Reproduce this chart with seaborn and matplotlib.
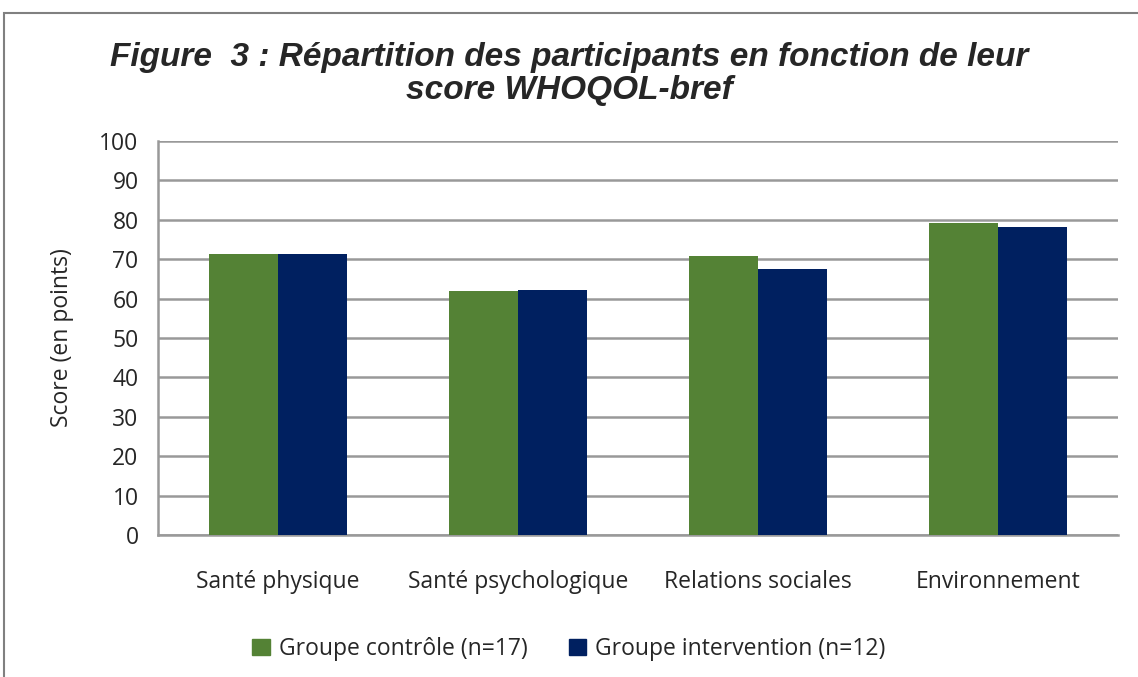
import numpy as np
import pandas as pd
import matplotlib
matplotlib.use("Agg")
import matplotlib.pyplot as plt
import seaborn as sns
from matplotlib.patches import Rectangle

# données
categories = ["Santé physique", "Santé psychologique", "Relations sociales", "Environnement"]
groupes = ["Groupe contrôle (n=17)", "Groupe intervention (n=12)"]
controle = [71.4, 61.9, 70.9, 79.2]
intervention = [71.4, 62.3, 67.4, 78.1]
couleurs = ["#548235", "#002060"]

df = pd.DataFrame({
    "categorie": categories * 2,
    "groupe": [groupes[0]] * 4 + [groupes[1]] * 4,
    "score": controle + intervention,
})

sns.set_style("white")
police = "Open Sans"
taille = 16.5

fig = plt.figure(figsize=(11.38, 6.77), dpi=100)
ax = fig.add_axes([158 / 1138, 1 - 535 / 677, 960 / 1138, 394 / 677])

sns.barplot(data=df, x="categorie", y="score", hue="groupe", palette=couleurs,
            width=0.575, saturation=1, ax=ax, legend=False, zorder=3, linewidth=0)

ax.set_ylim(0, 100)
ax.set_xlim(-0.5, 3.5)
ax.set_yticks(range(0, 101, 10))
ax.tick_params(axis="y", labelsize=taille, length=8, width=1.5, color="#999999", pad=6)
ax.set_xticks(np.arange(-0.5, 4, 1))
ax.set_xticklabels([])
ax.tick_params(axis="x", length=8, width=1.5, color="#999999")
for i, c in enumerate(categories):
    ax.text(i, -12, c, ha="center", va="center", fontsize=taille, family=police)
for lbl in ax.get_yticklabels():
    lbl.set_family(police)
ax.yaxis.grid(True, color="#999999", linewidth=1.8, zorder=0)
ax.set_axisbelow(True)
for s in ["top", "right"]:
    ax.spines[s].set_visible(False)
for s in ["left", "bottom"]:
    ax.spines[s].set_color("#999999")
    ax.spines[s].set_linewidth(1.8)
ax.set_xlabel("")
ax.set_ylabel("Score (en points)", fontsize=taille, family=police)
ax.yaxis.set_label_coords(-84 / 960, 0.5)

fig.text(0.5, 1 - 74 / 677, "Figure  3 : Répartition des participants en fonction de leur\nscore WHOQOL-bref",
         ha="center", va="center", fontsize=24, fontweight="bold", fontstyle="italic",
         family="Liberation Sans", linespacing=1.08)

handles = [Rectangle((0, 0), 1, 1, color=c) for c in couleurs]
fig.legend(handles, groupes, loc="center", bbox_to_anchor=(0.5, 1 - 649 / 677), ncol=2,
           frameon=False, prop={"family": police, "size": taille}, handlelength=0.75,
           handleheight=0.75, handletextpad=0.4, columnspacing=1.8)

fig.add_artist(Rectangle((4 / 1138, -0.01), 1140 / 1138, 1 - 13 / 677 + 0.01, transform=fig.transFigure,
                         fill=False, edgecolor="#808080", linewidth=1.5))

fig.savefig("out.png", dpi=100)
